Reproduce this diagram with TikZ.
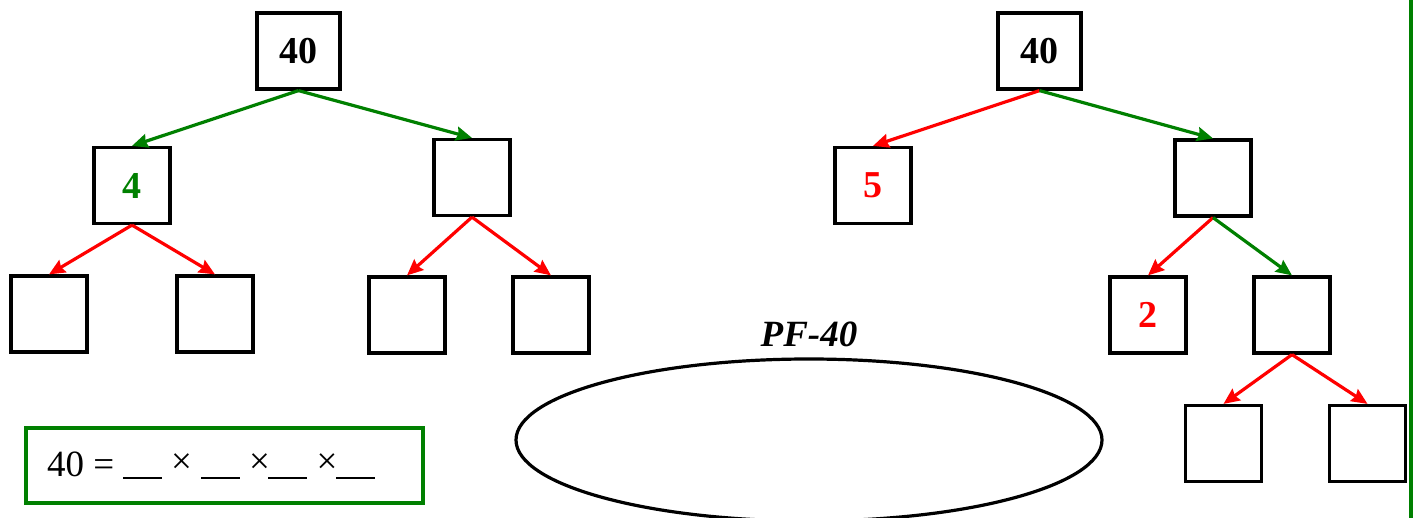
\documentclass[tikz,border=0pt]{standalone}
\usepackage{fontspec}
\setmainfont{Liberation Serif}
\usetikzlibrary{arrows.meta}
\definecolor{gr}{RGB}{0,128,0}
\definecolor{rd}{RGB}{255,0,0}
\tikzset{
  box/.style={draw=black, line width=3.2pt, minimum width=76pt, minimum height=76pt, inner sep=0pt, font=\fontsize{38}{40}\selectfont\bfseries},
  rootbox/.style={box, minimum width=83pt},
  garrow/.style={draw=gr, line width=3.2pt, -{Stealth[length=16pt,width=14pt,inset=2pt]}},
  rarrow/.style={draw=rd, line width=3.2pt, -{Stealth[length=16pt,width=14pt,inset=2pt]}},
  eqfont/.style={inner sep=0pt, font=\fontsize{37}{39}\selectfont},
}
\begin{document}
\begin{tikzpicture}[x=1pt,y=-1pt]
\useasboundingbox (0,0) rectangle (1418,518);
\fill[white] (0,0) rectangle (1418,518);
% left tree
\node[rootbox] (L0) at (298.5,51) {40};
\node[box, text=gr] (L1) at (132,185.5) {4};
\node[box] (L2) at (472,177.5) {};
\node[box] (L3) at (49,314) {};
\node[box] (L4) at (215,314) {};
\node[box] (L5) at (407,315) {};
\node[box] (L6) at (551,315) {};
\draw[garrow] (L0.south) -- (L1.north);
\draw[garrow] (L0.south) -- (L2.north);
\draw[rarrow] (L1.south) -- (L3.north);
\draw[rarrow] (L1.south) -- (L4.north);
\draw[rarrow] (L2.south) -- (L5.north);
\draw[rarrow] (L2.south) -- (L6.north);
% right tree
\node[rootbox] (R0) at (1039.5,51) {40};
\node[box, text=rd] (R1) at (873,185.5) {5};
\node[box] (R2) at (1213,178) {};
\node[box, text=rd] (R3) at (1148,315) {2};
\node[box] (R4) at (1292,315) {};
\node[box] (R5) at (1223.5,443.5) {};
\node[box] (R6) at (1367.5,443.5) {};
\draw[rarrow] (R0.south) -- (R1.north);
\draw[garrow] (R0.south) -- (R2.north);
\draw[rarrow] (R2.south) -- (R3.north);
\draw[garrow] (R2.south) -- (R4.north);
\draw[rarrow] (R4.south) -- (R5.north);
\draw[rarrow] (R4.south) -- (R6.north);
% right green line
\draw[gr, line width=4.5pt] (1411,0) -- (1411,518);
% ellipse
\begin{scope}
\clip (0,0) rectangle (1418,518);
\draw[line width=3.2pt] (809,440) ellipse [x radius=293, y radius=81];
\end{scope}
\node[font=\fontsize{37}{39}\selectfont\bfseries\itshape] (pf) at (809,334) {PF-40};
% equation box
\node[draw=gr, line width=3.2pt, minimum width=397pt, minimum height=75pt, inner sep=0pt] (eq) at (224.5,465.5) {};
\node[eqfont, anchor=base west] (eqa) at (47,476) {40 =};
\node[eqfont] (x1) at (181.5,464) {×};
\node[eqfont] (x2) at (259.5,464) {×};
\node[eqfont] (x3) at (327,464) {×};
\draw[line width=2.5pt] (123,478) -- (162,478);
\draw[line width=2.5pt] (201,478) -- (240,478);
\draw[line width=2.5pt] (268,478) -- (307,478);
\draw[line width=2.5pt] (336,478) -- (375,478);
\end{tikzpicture}
\end{document}
